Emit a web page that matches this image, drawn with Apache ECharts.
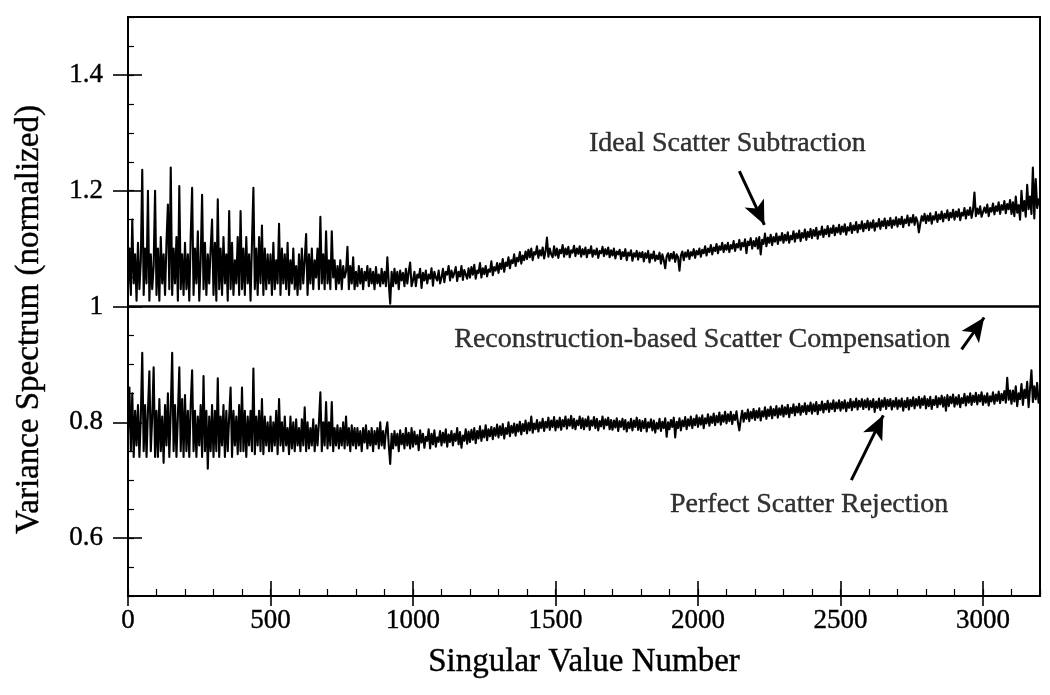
<!DOCTYPE html>
<html>
<head>
<meta charset="utf-8">
<script src="https://cdn.jsdelivr.net/npm/echarts@6/dist/echarts.min.js"></script>
<style>
  html, body { margin: 0; padding: 0; background: #fff; }
  #chart { width: 1050px; height: 695px; }
</style>
</head>
<body>
<div id="chart"></div>
<script>
// ---- data ----
const sampleStep = 5; // spacing of the singular value samples

const idealScatterSubtraction = [
  1.03, 1.10, 1.02, 1.15, 1.04, 1.09, 1.01, 1.11, 1.03, 1.08, 1.236, 1.02, 1.10, 1.04, 1.20, 1.01, 1.09, 1.03, 1.07, 1.20,
  1.02, 1.10, 1.01, 1.12, 1.04, 1.09, 1.02, 1.11, 1.176, 1.03, 1.24, 1.02, 1.10, 1.04, 1.12, 1.01, 1.208, 1.03, 1.09, 1.02,
  1.11, 1.03, 1.09, 1.01, 1.12, 1.205, 1.02, 1.10, 1.04, 1.13, 1.01, 1.08, 1.193, 1.03, 1.11, 1.02, 1.09, 1.04, 1.10, 1.15,
  1.02, 1.11, 1.01, 1.185, 1.03, 1.10, 1.02, 1.12, 1.04, 1.09, 1.01, 1.165, 1.03, 1.11, 1.02, 1.08, 1.04, 1.12, 1.02, 1.165,
  1.03, 1.10, 1.02, 1.12, 1.04, 1.09, 1.01, 1.11, 1.205, 1.03, 1.10, 1.02, 1.12, 1.04, 1.14, 1.02, 1.10, 1.03, 1.09, 1.04,
  1.09, 1.02, 1.11, 1.03, 1.08, 1.04, 1.143, 1.02, 1.10, 1.04, 1.09, 1.03, 1.11, 1.02, 1.08, 1.04, 1.10, 1.03, 1.07, 1.02,
  1.09, 1.03, 1.10, 1.04, 1.08, 1.125, 1.02, 1.09, 1.04, 1.10, 1.03, 1.08, 1.05, 1.10, 1.03, 1.155, 1.04, 1.09, 1.03, 1.13,
  1.04, 1.08, 1.03, 1.13, 1.05, 1.08, 1.03, 1.07, 1.04, 1.08, 1.03, 1.07, 1.05, 1.06, 1.103, 1.03, 1.07, 1.04, 1.085, 1.03,
  1.06, 1.035, 1.07, 1.04, 1.065, 1.03, 1.06, 1.045, 1.07, 1.035, 1.065, 1.04, 1.06, 1.03, 1.068, 1.04, 1.055, 1.035, 1.065, 1.04,
  1.06, 1.035, 1.085, 1.04, 1.005, 1.06, 1.035, 1.065, 1.04, 1.06, 1.03, 1.062, 1.045, 1.058, 1.035, 1.065, 1.04, 1.06, 1.076, 1.035,
  1.045, 1.06, 1.035, 1.055, 1.05, 1.065, 1.032, 1.058, 1.045, 1.062, 1.04, 1.055, 1.048, 1.066, 1.036, 1.06, 1.05, 1.045, 1.062, 1.04,
  1.05, 1.065, 1.042, 1.06, 1.055, 1.07, 1.045, 1.062, 1.05, 1.058, 1.068, 1.044, 1.06, 1.052, 1.07, 1.046, 1.063, 1.055, 1.048, 1.066,
  1.05, 1.068, 1.055, 1.072, 1.048, 1.062, 1.058, 1.075, 1.05, 1.066, 1.056, 1.07, 1.052, 1.064, 1.06, 1.078, 1.054, 1.068, 1.062, 1.075,
  1.058, 1.074, 1.065, 1.082, 1.06, 1.076, 1.07, 1.085, 1.066, 1.08, 1.075, 1.09, 1.07, 1.084, 1.078, 1.094, 1.074, 1.088, 1.08, 1.095,
  1.082, 1.098, 1.085, 1.10, 1.08, 1.094, 1.09, 1.104, 1.084, 1.097, 1.088, 1.102, 1.083, 1.095, 1.119, 1.086, 1.10, 1.09, 1.085, 1.104,
  1.088, 1.10, 1.084, 1.098, 1.092, 1.106, 1.086, 1.10, 1.09, 1.103, 1.085, 1.097, 1.093, 1.105, 1.087, 1.10, 1.091, 1.104, 1.086, 1.099,
  1.09, 1.102, 1.085, 1.098, 1.092, 1.104, 1.086, 1.097, 1.09, 1.10, 1.084, 1.096, 1.092, 1.103, 1.087, 1.099, 1.09, 1.102, 1.085, 1.097,
  1.088, 1.10, 1.083, 1.095, 1.09, 1.098, 1.082, 1.094, 1.087, 1.099, 1.08, 1.093, 1.088, 1.097, 1.079, 1.092, 1.086, 1.096, 1.081, 1.093,
  1.085, 1.094, 1.078, 1.092, 1.084, 1.096, 1.076, 1.09, 1.083, 1.095, 1.079, 1.088, 1.082, 1.093, 1.074, 1.09, 1.08, 1.066, 1.087, 1.092,
  1.079, 1.091, 1.083, 1.094, 1.077, 1.09, 1.085, 1.062, 1.088, 1.095, 1.08, 1.093, 1.086, 1.097, 1.082, 1.094, 1.088, 1.099, 1.084, 1.096,
  1.09, 1.10, 1.086, 1.098, 1.092, 1.104, 1.088, 1.10, 1.094, 1.106, 1.09, 1.102, 1.096, 1.108, 1.092, 1.104, 1.098, 1.11, 1.094, 1.106,
  1.098, 1.11, 1.094, 1.106, 1.10, 1.113, 1.096, 1.108, 1.102, 1.115, 1.098, 1.11, 1.104, 1.116, 1.092, 1.112, 1.106, 1.118, 1.10, 1.113,
  1.104, 1.118, 1.10, 1.12, 1.09, 1.115, 1.108, 1.126, 1.104, 1.119, 1.11, 1.124, 1.106, 1.12, 1.112, 1.126, 1.108, 1.121, 1.114, 1.127,
  1.11, 1.124, 1.114, 1.128, 1.11, 1.122, 1.116, 1.13, 1.112, 1.126, 1.118, 1.131, 1.113, 1.127, 1.119, 1.133, 1.115, 1.129, 1.12, 1.134,
  1.118, 1.132, 1.122, 1.136, 1.117, 1.13, 1.124, 1.138, 1.12, 1.133, 1.125, 1.139, 1.121, 1.135, 1.127, 1.14, 1.123, 1.136, 1.128, 1.141,
  1.125, 1.138, 1.129, 1.142, 1.124, 1.137, 1.131, 1.144, 1.127, 1.14, 1.132, 1.146, 1.128, 1.141, 1.134, 1.147, 1.13, 1.143, 1.135, 1.148,
  1.132, 1.145, 1.136, 1.149, 1.131, 1.144, 1.138, 1.151, 1.134, 1.147, 1.139, 1.152, 1.135, 1.148, 1.14, 1.153, 1.136, 1.149, 1.141, 1.154,
  1.138, 1.151, 1.142, 1.155, 1.137, 1.15, 1.144, 1.157, 1.14, 1.153, 1.145, 1.158, 1.141, 1.154, 1.147, 1.128, 1.143, 1.156, 1.148, 1.16,
  1.144, 1.157, 1.148, 1.161, 1.143, 1.156, 1.15, 1.163, 1.146, 1.159, 1.151, 1.164, 1.147, 1.16, 1.153, 1.166, 1.149, 1.162, 1.154, 1.167,
  1.15, 1.164, 1.155, 1.168, 1.149, 1.162, 1.157, 1.17, 1.152, 1.166, 1.158, 1.171, 1.153, 1.167, 1.197, 1.156, 1.169, 1.16, 1.173, 1.155,
  1.158, 1.171, 1.162, 1.176, 1.156, 1.17, 1.164, 1.178, 1.159, 1.173, 1.165, 1.18, 1.16, 1.175, 1.167, 1.182, 1.161, 1.177, 1.168, 1.184,
  1.16, 1.18, 1.156, 1.19, 1.162, 1.175, 1.15, 1.20, 1.165, 1.182, 1.155, 1.21, 1.168, 1.19, 1.16, 1.24, 1.152, 1.22, 1.17, 1.185,
  1.175
];

const perfectScatterRejection = [
  0.78, 0.86, 0.75, 0.85, 0.74, 0.82, 0.76, 0.83, 0.74, 0.81, 0.92, 0.75, 0.83, 0.74, 0.82, 0.888, 0.75, 0.81, 0.895, 0.74,
  0.82, 0.74, 0.84, 0.75, 0.81, 0.73, 0.83, 0.76, 0.85, 0.74, 0.82, 0.92, 0.75, 0.83, 0.74, 0.81, 0.895, 0.75, 0.84, 0.74,
  0.847, 0.75, 0.82, 0.74, 0.83, 0.89, 0.75, 0.82, 0.74, 0.81, 0.76, 0.83, 0.74, 0.88, 0.75, 0.82, 0.72, 0.81, 0.75, 0.83,
  0.74, 0.82, 0.75, 0.876, 0.74, 0.81, 0.76, 0.83, 0.74, 0.82, 0.75, 0.81, 0.86, 0.74, 0.82, 0.76, 0.81, 0.745, 0.83, 0.75,
  0.86, 0.75, 0.82, 0.74, 0.81, 0.76, 0.82, 0.75, 0.893, 0.745, 0.81, 0.76, 0.82, 0.75, 0.84, 0.745, 0.81, 0.76, 0.80, 0.75,
  0.81, 0.75, 0.80, 0.76, 0.82, 0.745, 0.84, 0.76, 0.80, 0.75, 0.81, 0.76, 0.79, 0.745, 0.81, 0.755, 0.80, 0.75, 0.805, 0.76,
  0.79, 0.75, 0.805, 0.76, 0.826, 0.75, 0.80, 0.755, 0.79, 0.76, 0.805, 0.75, 0.795, 0.76, 0.80, 0.852, 0.75, 0.80, 0.76, 0.835,
  0.755, 0.80, 0.76, 0.835, 0.75, 0.79, 0.76, 0.795, 0.755, 0.79, 0.76, 0.80, 0.755, 0.81, 0.76, 0.79, 0.75, 0.795, 0.76, 0.79,
  0.755, 0.79, 0.76, 0.785, 0.75, 0.79, 0.765, 0.795, 0.755, 0.785, 0.76, 0.79, 0.75, 0.785, 0.762, 0.79, 0.755, 0.80, 0.76, 0.785,
  0.755, 0.785, 0.80, 0.76, 0.728, 0.78, 0.755, 0.785, 0.76, 0.78, 0.75, 0.786, 0.762, 0.78, 0.755, 0.79, 0.76, 0.782, 0.755, 0.79,
  0.758, 0.784, 0.762, 0.778, 0.752, 0.786, 0.765, 0.78, 0.756, 0.775, 0.768, 0.788, 0.755, 0.78, 0.762, 0.786, 0.758, 0.774, 0.766, 0.785,
  0.76, 0.782, 0.765, 0.788, 0.758, 0.779, 0.766, 0.785, 0.76, 0.78, 0.768, 0.79, 0.762, 0.783, 0.756, 0.777, 0.768, 0.788, 0.763, 0.784,
  0.766, 0.787, 0.77, 0.79, 0.764, 0.785, 0.772, 0.793, 0.768, 0.786, 0.774, 0.795, 0.769, 0.788, 0.776, 0.792, 0.771, 0.79, 0.777, 0.796,
  0.774, 0.793, 0.778, 0.797, 0.772, 0.79, 0.78, 0.80, 0.776, 0.794, 0.782, 0.798, 0.777, 0.796, 0.784, 0.801, 0.779, 0.797, 0.785, 0.803,
  0.781, 0.799, 0.786, 0.81, 0.782, 0.798, 0.788, 0.804, 0.784, 0.80, 0.79, 0.806, 0.785, 0.801, 0.791, 0.808, 0.787, 0.803, 0.792, 0.809,
  0.786, 0.803, 0.791, 0.808, 0.787, 0.804, 0.793, 0.81, 0.789, 0.805, 0.794, 0.811, 0.79, 0.806, 0.788, 0.803, 0.795, 0.81, 0.79, 0.807,
  0.788, 0.805, 0.793, 0.81, 0.787, 0.803, 0.794, 0.809, 0.79, 0.806, 0.786, 0.802, 0.793, 0.81, 0.789, 0.805, 0.795, 0.808, 0.788, 0.804,
  0.787, 0.803, 0.791, 0.807, 0.785, 0.802, 0.792, 0.806, 0.788, 0.804, 0.784, 0.80, 0.79, 0.806, 0.786, 0.803, 0.792, 0.808, 0.787, 0.804,
  0.785, 0.802, 0.79, 0.806, 0.784, 0.80, 0.791, 0.805, 0.786, 0.803, 0.782, 0.799, 0.789, 0.806, 0.785, 0.801, 0.79, 0.807, 0.775, 0.80,
  0.788, 0.804, 0.792, 0.808, 0.774, 0.801, 0.79, 0.807, 0.786, 0.803, 0.793, 0.809, 0.788, 0.805, 0.794, 0.81, 0.79, 0.806, 0.795, 0.812,
  0.792, 0.808, 0.796, 0.812, 0.79, 0.807, 0.798, 0.814, 0.794, 0.81, 0.799, 0.815, 0.795, 0.811, 0.80, 0.817, 0.796, 0.812, 0.801, 0.818,
  0.798, 0.814, 0.802, 0.818, 0.797, 0.813, 0.804, 0.819, 0.80, 0.786, 0.805, 0.82, 0.801, 0.816, 0.806, 0.822, 0.802, 0.818, 0.807, 0.823,
  0.804, 0.82, 0.808, 0.824, 0.803, 0.819, 0.81, 0.826, 0.806, 0.822, 0.811, 0.827, 0.807, 0.823, 0.812, 0.828, 0.808, 0.824, 0.813, 0.829,
  0.81, 0.826, 0.814, 0.83, 0.809, 0.825, 0.816, 0.831, 0.812, 0.827, 0.817, 0.832, 0.813, 0.828, 0.818, 0.833, 0.814, 0.829, 0.819, 0.834,
  0.815, 0.831, 0.819, 0.835, 0.814, 0.83, 0.821, 0.836, 0.817, 0.832, 0.822, 0.837, 0.818, 0.833, 0.823, 0.838, 0.819, 0.834, 0.824, 0.838,
  0.82, 0.835, 0.824, 0.838, 0.819, 0.834, 0.825, 0.84, 0.821, 0.836, 0.826, 0.841, 0.822, 0.837, 0.827, 0.84, 0.823, 0.838, 0.826, 0.841,
  0.822, 0.837, 0.826, 0.84, 0.818, 0.836, 0.825, 0.841, 0.821, 0.838, 0.827, 0.842, 0.823, 0.839, 0.828, 0.84, 0.822, 0.837, 0.827, 0.842,
  0.823, 0.838, 0.827, 0.841, 0.82, 0.837, 0.826, 0.842, 0.822, 0.839, 0.828, 0.843, 0.824, 0.84, 0.829, 0.844, 0.825, 0.841, 0.83, 0.845,
  0.824, 0.84, 0.828, 0.844, 0.823, 0.839, 0.83, 0.845, 0.826, 0.842, 0.831, 0.846, 0.827, 0.843, 0.82, 0.847, 0.828, 0.844, 0.833, 0.848,
  0.827, 0.843, 0.831, 0.847, 0.826, 0.842, 0.833, 0.849, 0.829, 0.845, 0.834, 0.85, 0.83, 0.846, 0.835, 0.851, 0.831, 0.847, 0.836, 0.852,
  0.83, 0.846, 0.834, 0.85, 0.829, 0.845, 0.836, 0.852, 0.832, 0.848, 0.837, 0.853, 0.833, 0.849, 0.838, 0.854, 0.834, 0.877, 0.839, 0.855,
  0.832, 0.855, 0.836, 0.862, 0.828, 0.85, 0.84, 0.866, 0.83, 0.856, 0.842, 0.87, 0.826, 0.858, 0.89, 0.835, 0.862, 0.84, 0.868, 0.834,
  0.85
];

const reconstructionX = [0, 3200];
const reconstructionY = [1, 1];

const xTickLabels = [0, 500, 1000, 1500, 2000, 2500, 3000];
const yTickLabels = [0.6, 0.8, 1, 1.2, 1.4];

const annotationTexts = ['Ideal Scatter Subtraction', 'Reconstruction-based Scatter Compensation', 'Perfect Scatter Rejection'];
const annotationX = [2103, 2015, 2390];
const annotationY = [1.281, 0.943, 0.657];

// arrows: [startX, startY, endX, endY]
const arrowLines = [
  [2145, 1.234, 2233, 1.141],
  [2925, 0.926, 3004, 0.981],
  [2538, 0.700, 2650, 0.812]
];

// ---- chart ----
const singularValueNumbers = idealScatterSubtraction.map((_, i) => i * sampleStep);
const idealData = idealScatterSubtraction.map((v, i) => [singularValueNumbers[i], v]);
const perfectData = perfectScatterRejection.map((v, i) => [singularValueNumbers[i], v]);
const reconData = reconstructionY.map((v, i) => [reconstructionX[i], v]);

const FONT = 'Liberation Serif';
const INK = { textBorderColor: '#000', textBorderWidth: 0.4 };
const chart = echarts.init(document.getElementById('chart'), null, { renderer: 'canvas' });

const baseX = { type: 'value', min: 0, max: 3200, position: 'bottom', splitLine: { show: false } };
const baseY = { type: 'value', min: 0.5, max: 1.5, position: 'left', splitLine: { show: false } };
const plain = v => String(v);

chart.setOption({
  animation: false,
  backgroundColor: '#fff',
  grid: { left: 128, right: 10, top: 17, bottom: 99, show: true, borderColor: '#000', borderWidth: 2 },
  xAxis: [
    Object.assign({}, baseX, {
      interval: 100,
      axisLine: { show: true, lineStyle: { color: '#000', width: 2 } },
      axisTick: { show: true, inside: true, length: 7, lineStyle: { color: '#000', width: 1.2 } },
      axisLabel: { show: false },
      name: 'Singular Value Number', nameLocation: 'middle', nameGap: 50,
      nameTextStyle: Object.assign({ fontFamily: FONT, fontSize: 33, color: '#000' }, INK)
    }),
    Object.assign({}, baseX, {
      interval: 100,
      axisLine: { show: false },
      axisTick: { show: true, inside: true, length: 15, customValues: xTickLabels, lineStyle: { color: '#000', width: 1.6 } },
      axisLabel: { show: false }
    }),
    Object.assign({}, baseX, {
      interval: 100,
      axisLine: { show: false },
      axisTick: { show: true, inside: false, length: 10, customValues: xTickLabels, lineStyle: { color: '#000', width: 1.6 } },
      axisLabel: Object.assign({ show: true, customValues: xTickLabels, formatter: plain, margin: 11, fontFamily: FONT, fontSize: 27, color: '#000' }, INK)
    })
  ],
  yAxis: [
    Object.assign({}, baseY, {
      interval: 0.05,
      axisLine: { show: true, lineStyle: { color: '#000', width: 2 } },
      axisTick: { show: true, inside: true, length: 6, lineStyle: { color: '#000', width: 1.2 } },
      axisLabel: { show: false },
      name: 'Variance Spectrum (normalized)', nameLocation: 'middle', nameGap: 82, nameRotate: 90,
      nameTextStyle: Object.assign({ fontFamily: FONT, fontSize: 33, color: '#000', padding: [0, 26, 0, 0] }, INK)
    }),
    Object.assign({}, baseY, {
      interval: 0.05,
      axisLine: { show: false },
      axisTick: { show: true, inside: true, length: 14, customValues: yTickLabels, lineStyle: { color: '#000', width: 1.6 } },
      axisLabel: { show: false }
    }),
    Object.assign({}, baseY, {
      interval: 0.05,
      axisLine: { show: false },
      axisTick: { show: true, inside: false, length: 15, customValues: yTickLabels, lineStyle: { color: '#000', width: 1.6 } },
      axisLabel: Object.assign({ show: true, customValues: yTickLabels, formatter: plain, margin: 25, fontFamily: FONT, fontSize: 27, color: '#000' }, INK)
    })
  ],
  series: [
    {
      name: 'Ideal Scatter Subtraction', type: 'line', data: idealData,
      showSymbol: false, symbol: 'none', sampling: null,
      lineStyle: { color: '#000', width: 2.1, join: 'round' }, z: 3
    },
    {
      name: 'Perfect Scatter Rejection', type: 'line', data: perfectData,
      showSymbol: false, symbol: 'none',
      lineStyle: { color: '#000', width: 2.1, join: 'round' }, z: 3
    },
    {
      name: 'Reconstruction-based Scatter Compensation', type: 'line', data: reconData,
      showSymbol: false, symbol: 'none',
      lineStyle: { color: '#000', width: 2.5 }, z: 4,
      markLine: {
        silent: true, animation: false,
        symbol: ['none', 'arrow'], symbolSize: [16, 24],
        lineStyle: { color: '#000', width: 3, type: 'solid' },
        label: { show: false },
        data: arrowLines.map(a => [{ coord: [a[0], a[1]] }, { coord: [a[2], a[3]] }])
      }
    },
    {
      type: 'scatter', silent: true, symbolSize: 0, z: 5,
      data: annotationTexts.map((t, i) => ({ value: [annotationX[i], annotationY[i]], name: t })),
      label: Object.assign({
        show: true, position: 'inside', formatter: p => p.name,
        fontFamily: FONT, fontSize: 28, color: '#000'
      }, INK)
    }
  ]
});
</script>
</body>
</html>
